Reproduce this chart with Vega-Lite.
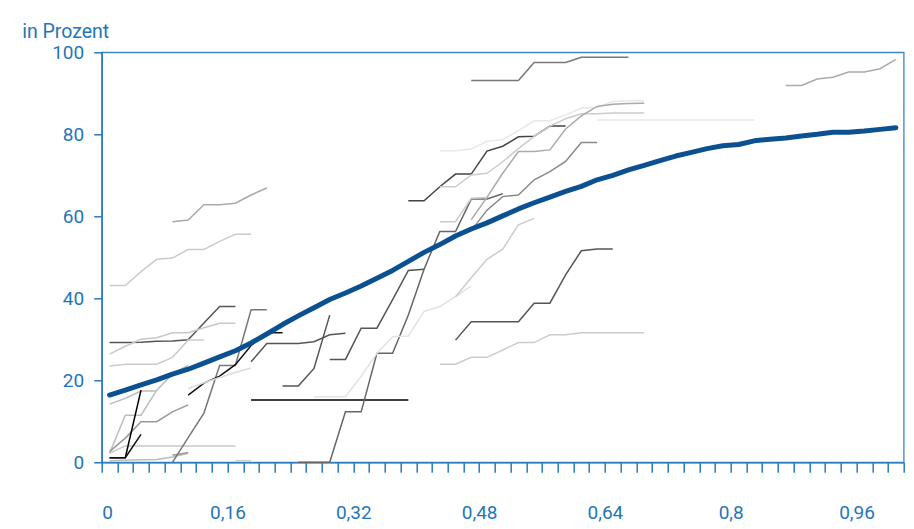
{
  "$schema": "https://vega.github.io/schema/vega-lite/v6.json",
  "width": 802,
  "height": 410,
  "autosize": {"type": "none"},
  "padding": {"left": 101.7, "top": 52.3, "right": 10.3, "bottom": 66.7},
  "background": "white",
  "config": {
    "view": {"stroke": "#3b86c6", "strokeWidth": 1.3},
    "axis": {
      "domainColor": "#2a7bbf", "domainWidth": 1.5,
      "tickColor": "#2a7bbf", "tickWidth": 1.5,
      "labelColor": "#1f76ba", "labelFont": "Roboto", "labelFontSize": 19,
      "grid": false
    }
  },
  "datasets": {
    "blue": [
      {"x":0.01,"y":16.4},{"x":0.03,"y":17.6},{"x":0.05,"y":18.9},{"x":0.07,"y":20.1},{"x":0.09,"y":21.5},
      {"x":0.11,"y":22.7},{"x":0.13,"y":24.2},{"x":0.15,"y":25.7},{"x":0.17,"y":27.2},{"x":0.19,"y":29.1},
      {"x":0.21,"y":31.3},{"x":0.23,"y":33.6},{"x":0.25,"y":35.7},{"x":0.27,"y":37.7},{"x":0.29,"y":39.7},
      {"x":0.31,"y":41.3},{"x":0.33,"y":43.0},{"x":0.35,"y":44.9},{"x":0.37,"y":46.8},{"x":0.39,"y":49.0},
      {"x":0.41,"y":51.2},{"x":0.43,"y":53.1},{"x":0.45,"y":55.2},{"x":0.47,"y":56.9},{"x":0.49,"y":58.4},
      {"x":0.51,"y":60.1},{"x":0.53,"y":61.8},{"x":0.55,"y":63.3},{"x":0.57,"y":64.7},{"x":0.59,"y":66.1},
      {"x":0.61,"y":67.3},{"x":0.63,"y":68.9},{"x":0.65,"y":70.0},{"x":0.67,"y":71.3},{"x":0.69,"y":72.4},
      {"x":0.71,"y":73.6},{"x":0.73,"y":74.7},{"x":0.75,"y":75.6},{"x":0.77,"y":76.5},{"x":0.79,"y":77.2},
      {"x":0.81,"y":77.5},{"x":0.83,"y":78.4},{"x":0.85,"y":78.8},{"x":0.87,"y":79.1},{"x":0.89,"y":79.6},
      {"x":0.91,"y":80.0},{"x":0.93,"y":80.5},{"x":0.95,"y":80.5},{"x":0.97,"y":80.8},{"x":0.99,"y":81.2},
      {"x":1.01,"y":81.6}
    ],
    "grey": [
      {"s":"A1","x":0.09,"y":58.7},{"s":"A1","x":0.11,"y":59.1},{"s":"A1","x":0.13,"y":62.8},{"s":"A1","x":0.15,"y":62.8},{"s":"A1","x":0.17,"y":63.2},{"s":"A1","x":0.19,"y":65.2},{"s":"A1","x":0.21,"y":66.9},
      {"s":"A2","x":0.01,"y":43.1},{"s":"A2","x":0.03,"y":43.1},{"s":"A2","x":0.05,"y":46.5},{"s":"A2","x":0.07,"y":49.5},{"s":"A2","x":0.09,"y":49.8},{"s":"A2","x":0.11,"y":51.9},{"s":"A2","x":0.13,"y":51.9},{"s":"A2","x":0.15,"y":53.9},{"s":"A2","x":0.17,"y":55.6},{"s":"A2","x":0.19,"y":55.6},
      {"s":"B1","x":0.01,"y":29.2},{"s":"B1","x":0.03,"y":29.2},{"s":"B1","x":0.05,"y":29.3},{"s":"B1","x":0.07,"y":29.5},{"s":"B1","x":0.09,"y":29.6},{"s":"B1","x":0.11,"y":29.9},{"s":"B1","x":0.13,"y":34.0},{"s":"B1","x":0.15,"y":38.0},{"s":"B1","x":0.17,"y":38.0},
      {"s":"B2","x":0.01,"y":26.4},{"s":"B2","x":0.03,"y":28.3},{"s":"B2","x":0.05,"y":30.0},{"s":"B2","x":0.07,"y":30.4},{"s":"B2","x":0.09,"y":31.6},{"s":"B2","x":0.11,"y":31.6},{"s":"B2","x":0.13,"y":32.8},{"s":"B2","x":0.15,"y":33.9},{"s":"B2","x":0.17,"y":33.9},
      {"s":"B4","x":0.01,"y":23.5},{"s":"B4","x":0.03,"y":23.9},{"s":"B4","x":0.05,"y":23.9},{"s":"B4","x":0.07,"y":23.9},{"s":"B4","x":0.09,"y":25.6},{"s":"B4","x":0.11,"y":29.8},{"s":"B4","x":0.13,"y":29.8},
      {"s":"B5","x":0.01,"y":14.2},{"s":"B5","x":0.03,"y":15.6},{"s":"B5","x":0.05,"y":17.4},{"s":"B5","x":0.07,"y":17.4},
      {"s":"C1","x":0.01,"y":2.2},{"s":"C1","x":0.03,"y":11.5},{"s":"C1","x":0.05,"y":11.5},{"s":"C1","x":0.07,"y":17.6},{"s":"C1","x":0.09,"y":21.5},{"s":"C1","x":0.11,"y":23.7},
      {"s":"C2","x":0.01,"y":2.6},{"s":"C2","x":0.03,"y":5.9},{"s":"C2","x":0.05,"y":9.9},{"s":"C2","x":0.07,"y":9.9},{"s":"C2","x":0.09,"y":12.3},{"s":"C2","x":0.11,"y":14.0},
      {"s":"D1","x":0.01,"y":2.2},{"s":"D1","x":0.03,"y":4.0},{"s":"D1","x":0.05,"y":4.0},{"s":"D1","x":0.07,"y":4.0},{"s":"D1","x":0.09,"y":4.0},{"s":"D1","x":0.11,"y":4.0},{"s":"D1","x":0.13,"y":4.0},{"s":"D1","x":0.15,"y":4.0},{"s":"D1","x":0.17,"y":4.0},
      {"s":"D2","x":0.01,"y":0.4},{"s":"D2","x":0.03,"y":0.5},{"s":"D2","x":0.05,"y":0.6},{"s":"D2","x":0.07,"y":0.7},{"s":"D2","x":0.09,"y":1.3},{"s":"D2","x":0.11,"y":2.2},
      {"s":"D3","x":0.09,"y":1.7},{"s":"D3","x":0.11,"y":2.4},
      {"s":"D4","x":0.17,"y":0.4},{"s":"D4","x":0.19,"y":0.4},
      {"s":"K1","x":0.01,"y":1.1},{"s":"K1","x":0.03,"y":1.1},{"s":"K1","x":0.05,"y":17.6},
      {"s":"K2","x":0.01,"y":1.1},{"s":"K2","x":0.03,"y":1.1},{"s":"K2","x":0.05,"y":6.8},
      {"s":"E1","x":0.09,"y":0},{"s":"E1","x":0.11,"y":6},{"s":"E1","x":0.13,"y":12},{"s":"E1","x":0.15,"y":23.6},{"s":"E1","x":0.17,"y":23.6},{"s":"E1","x":0.19,"y":37.2},{"s":"E1","x":0.21,"y":37.2},
      {"s":"E2","x":0.11,"y":16.4},{"s":"E2","x":0.13,"y":19.3},{"s":"E2","x":0.15,"y":21.0},{"s":"E2","x":0.17,"y":23.8},{"s":"E2","x":0.19,"y":28.5},{"s":"E2","x":0.21,"y":31.6},{"s":"E2","x":0.23,"y":31.6},
      {"s":"E3","x":0.11,"y":18.0},{"s":"E3","x":0.13,"y":19.4},{"s":"E3","x":0.15,"y":20.7},{"s":"E3","x":0.17,"y":21.9},{"s":"E3","x":0.19,"y":23.0},
      {"s":"E4","x":0.19,"y":24.5},{"s":"E4","x":0.21,"y":29.0},{"s":"E4","x":0.23,"y":29.0},{"s":"E4","x":0.25,"y":29.0},{"s":"E4","x":0.27,"y":29.4},{"s":"E4","x":0.29,"y":31.1},{"s":"E4","x":0.31,"y":31.5},
      {"s":"E5","x":0.23,"y":18.6},{"s":"E5","x":0.25,"y":18.6},{"s":"E5","x":0.27,"y":22.9},{"s":"E5","x":0.29,"y":35.9},
      {"s":"E6","x":0.29,"y":25.1},{"s":"E6","x":0.31,"y":25.1},{"s":"E6","x":0.33,"y":32.7},{"s":"E6","x":0.35,"y":32.7},{"s":"E6","x":0.37,"y":39.7},{"s":"E6","x":0.39,"y":46.8},{"s":"E6","x":0.41,"y":47.1},
      {"s":"E7","x":0.19,"y":15.2},{"s":"E7","x":0.21,"y":15.2},{"s":"E7","x":0.23,"y":15.2},{"s":"E7","x":0.25,"y":15.2},{"s":"E7","x":0.27,"y":15.2},{"s":"E7","x":0.29,"y":15.2},{"s":"E7","x":0.31,"y":15.2},{"s":"E7","x":0.33,"y":15.2},{"s":"E7","x":0.35,"y":15.2},{"s":"E7","x":0.37,"y":15.2},{"s":"E7","x":0.39,"y":15.2},
      {"s":"F2","x":0.25,"y":0},{"s":"F2","x":0.27,"y":0},{"s":"F2","x":0.29,"y":0},{"s":"F2","x":0.31,"y":12.3},{"s":"F2","x":0.33,"y":12.3},{"s":"F2","x":0.35,"y":26.6},{"s":"F2","x":0.37,"y":26.6},{"s":"F2","x":0.39,"y":35.9},{"s":"F2","x":0.41,"y":47.1},{"s":"F2","x":0.43,"y":56.3},{"s":"F2","x":0.45,"y":56.3},{"s":"F2","x":0.47,"y":64.2},{"s":"F2","x":0.49,"y":64.2},{"s":"F2","x":0.51,"y":65.5},
      {"s":"F3","x":0.27,"y":16.0},{"s":"F3","x":0.29,"y":16.0},{"s":"F3","x":0.31,"y":16.0},{"s":"F3","x":0.33,"y":21.0},{"s":"F3","x":0.35,"y":26.6},{"s":"F3","x":0.37,"y":30.6},{"s":"F3","x":0.39,"y":30.8},{"s":"F3","x":0.41,"y":36.8},{"s":"F3","x":0.43,"y":38.0},{"s":"F3","x":0.45,"y":40.4},{"s":"F3","x":0.47,"y":43.0},
      {"s":"F5","x":0.45,"y":40.4},{"s":"F5","x":0.47,"y":45.0},{"s":"F5","x":0.49,"y":49.5},{"s":"F5","x":0.51,"y":52.0},{"s":"F5","x":0.53,"y":57.9},{"s":"F5","x":0.55,"y":59.5},
      {"s":"F6","x":0.45,"y":29.8},{"s":"F6","x":0.47,"y":34.3},{"s":"F6","x":0.49,"y":34.3},{"s":"F6","x":0.51,"y":34.3},{"s":"F6","x":0.53,"y":34.3},{"s":"F6","x":0.55,"y":38.8},{"s":"F6","x":0.57,"y":38.8},{"s":"F6","x":0.59,"y":45.7},{"s":"F6","x":0.61,"y":51.6},{"s":"F6","x":0.63,"y":52.0},{"s":"F6","x":0.65,"y":52.0},
      {"s":"F7","x":0.43,"y":23.9},{"s":"F7","x":0.45,"y":23.9},{"s":"F7","x":0.47,"y":25.6},{"s":"F7","x":0.49,"y":25.6},{"s":"F7","x":0.51,"y":27.4},{"s":"F7","x":0.53,"y":29.2},{"s":"F7","x":0.55,"y":29.2},{"s":"F7","x":0.57,"y":31.1},{"s":"F7","x":0.59,"y":31.1},{"s":"F7","x":0.61,"y":31.6},{"s":"F7","x":0.63,"y":31.6},{"s":"F7","x":0.65,"y":31.6},{"s":"F7","x":0.67,"y":31.6},{"s":"F7","x":0.69,"y":31.6},
      {"s":"G1","x":0.47,"y":93.1},{"s":"G1","x":0.49,"y":93.1},{"s":"G1","x":0.51,"y":93.1},{"s":"G1","x":0.53,"y":93.1},{"s":"G1","x":0.55,"y":97.5},{"s":"G1","x":0.57,"y":97.5},{"s":"G1","x":0.59,"y":97.5},{"s":"G1","x":0.61,"y":98.8},{"s":"G1","x":0.63,"y":98.8},{"s":"G1","x":0.65,"y":98.8},{"s":"G1","x":0.67,"y":98.8},
      {"s":"G2","x":0.39,"y":63.8},{"s":"G2","x":0.41,"y":63.8},{"s":"G2","x":0.43,"y":67.2},{"s":"G2","x":0.45,"y":70.3},{"s":"G2","x":0.47,"y":70.3},{"s":"G2","x":0.49,"y":75.9},{"s":"G2","x":0.51,"y":77.1},{"s":"G2","x":0.53,"y":79.4},{"s":"G2","x":0.55,"y":79.5},{"s":"G2","x":0.57,"y":82.0},{"s":"G2","x":0.59,"y":82.0},
      {"s":"G3","x":0.43,"y":76.0},{"s":"G3","x":0.45,"y":76.0},{"s":"G3","x":0.47,"y":76.4},{"s":"G3","x":0.49,"y":78.3},{"s":"G3","x":0.51,"y":78.7},{"s":"G3","x":0.53,"y":80.9},{"s":"G3","x":0.55,"y":83.3},{"s":"G3","x":0.57,"y":83.3},{"s":"G3","x":0.59,"y":84.7},{"s":"G3","x":0.61,"y":86.4},{"s":"G3","x":0.63,"y":86.6},{"s":"G3","x":0.65,"y":88.0},{"s":"G3","x":0.67,"y":88.2},{"s":"G3","x":0.69,"y":88.2},
      {"s":"G4","x":0.63,"y":83.5},{"s":"G4","x":0.65,"y":83.5},{"s":"G4","x":0.67,"y":83.5},{"s":"G4","x":0.69,"y":83.5},{"s":"G4","x":0.71,"y":83.5},{"s":"G4","x":0.73,"y":83.5},{"s":"G4","x":0.75,"y":83.5},{"s":"G4","x":0.77,"y":83.5},{"s":"G4","x":0.79,"y":83.5},{"s":"G4","x":0.81,"y":83.5},{"s":"G4","x":0.83,"y":83.5},
      {"s":"G7","x":0.43,"y":67.2},{"s":"G7","x":0.45,"y":67.2},{"s":"G7","x":0.47,"y":70.1},{"s":"G7","x":0.49,"y":70.5},{"s":"G7","x":0.51,"y":73.3},{"s":"G7","x":0.53,"y":76.5},{"s":"G7","x":0.55,"y":79.5},{"s":"G7","x":0.57,"y":82.0},{"s":"G7","x":0.59,"y":83.8},{"s":"G7","x":0.61,"y":85.0},{"s":"G7","x":0.63,"y":85.0},{"s":"G7","x":0.65,"y":85.2},{"s":"G7","x":0.67,"y":85.2},{"s":"G7","x":0.69,"y":85.2},
      {"s":"G8","x":0.47,"y":59.2},{"s":"G8","x":0.49,"y":64.6},{"s":"G8","x":0.51,"y":70.5},{"s":"G8","x":0.53,"y":75.8},{"s":"G8","x":0.55,"y":75.8},{"s":"G8","x":0.57,"y":76.2},{"s":"G8","x":0.59,"y":81.3},{"s":"G8","x":0.61,"y":84.5},{"s":"G8","x":0.63,"y":86.8},{"s":"G8","x":0.65,"y":87.3},{"s":"G8","x":0.67,"y":87.5},{"s":"G8","x":0.69,"y":87.6},
      {"s":"G9","x":0.47,"y":56.5},{"s":"G9","x":0.49,"y":61.5},{"s":"G9","x":0.51,"y":64.8},{"s":"G9","x":0.53,"y":65.2},{"s":"G9","x":0.55,"y":68.9},{"s":"G9","x":0.57,"y":70.9},{"s":"G9","x":0.59,"y":73.4},{"s":"G9","x":0.61,"y":78.0},{"s":"G9","x":0.63,"y":78.0},
      {"s":"G10","x":0.43,"y":58.7},{"s":"G10","x":0.45,"y":58.7},{"s":"G10","x":0.47,"y":64.4},{"s":"G10","x":0.49,"y":64.6},
      {"s":"H1","x":0.87,"y":91.9},{"s":"H1","x":0.89,"y":91.9},{"s":"H1","x":0.91,"y":93.5},{"s":"H1","x":0.93,"y":93.9},{"s":"H1","x":0.95,"y":95.2},{"s":"H1","x":0.97,"y":95.2},{"s":"H1","x":0.99,"y":96.0},{"s":"H1","x":1.01,"y":98.3}
    ]
  },
  "layer": [
    {
      "data": {"name": "grey"},
      "mark": {"type": "line", "strokeWidth": 1.5, "strokeCap": "butt", "strokeJoin": "miter"},
      "encoding": {
        "x": {
          "field": "x", "type": "quantitative",
          "scale": {"domain": [0, 1.02], "nice": false, "zero": false},
          "axis": {
            "title": null,
            "values": [0,0.02,0.04,0.06,0.08,0.1,0.12,0.14,0.16,0.18,0.2,0.22,0.24,0.26,0.28,0.3,0.32,0.34,0.36,0.38,0.4,0.42,0.44,0.46,0.48,0.5,0.52,0.54,0.56,0.58,0.6,0.62,0.64,0.66,0.68,0.7,0.72,0.74,0.76,0.78,0.8,0.82,0.84,0.86,0.88,0.9,0.92,0.94,0.96,0.98,1,1.02],
            "tickCount": 200,
            "tickSize": 10,
            "labelPadding": 31,
            "labelOverlap": false,
            "labelExpr": "abs(datum.value / 0.16 - round(datum.value / 0.16)) < 0.001 ? replace(format(datum.value, '.2~f'), '.', ',') : ''"
          }
        },
        "y": {
          "field": "y", "type": "quantitative",
          "scale": {"domain": [0, 100], "nice": false},
          "axis": {
            "values": [0, 20, 40, 60, 80, 100],
            "tickSize": 8,
            "labelPadding": 10,
            "title": "in Prozent",
            "titleAngle": 0,
            "titleAlign": "left",
            "titleBaseline": "alphabetic",
            "titleX": -80,
            "titleY": -15,
            "titleFont": "Roboto",
            "titleFontSize": 19.5,
            "titleFontWeight": "normal",
            "titleColor": "#1f76ba"
          }
        },
        "color": {
          "field": "s", "type": "nominal", "legend": null,
          "scale": {
            "domain": ["A1","A2","B1","B2","B4","B5","C1","C2","D1","D2","D3","D4","K1","K2","E1","E2","E3","E4","E5","E6","E7","F2","F3","F5","F6","F7","G1","G2","G3","G4","G7","G8","G9","G10","H1"],
            "range": ["#aaaaaa","#cccccc","#555555","#c8c8c8","#cccccc","#bbbbbb","#bdbdbd","#999999","#c8c8c8","#bbbbbb","#999999","#cccccc","#000000","#111111","#777777","#111111","#dddddd","#555555","#555555","#555555","#000000","#666666","#e3e3e3","#cccccc","#555555","#cccccc","#777777","#444444","#e8e8e8","#e8e8e8","#cccccc","#aaaaaa","#888888","#cccccc","#aaaaaa"]
          }
        }
      }
    },
    {
      "data": {"name": "blue"},
      "mark": {"type": "line", "strokeWidth": 5, "color": "#0b5192", "strokeCap": "round", "strokeJoin": "round"},
      "encoding": {
        "x": {"field": "x", "type": "quantitative"},
        "y": {"field": "y", "type": "quantitative"}
      }
    }
  ]
}
